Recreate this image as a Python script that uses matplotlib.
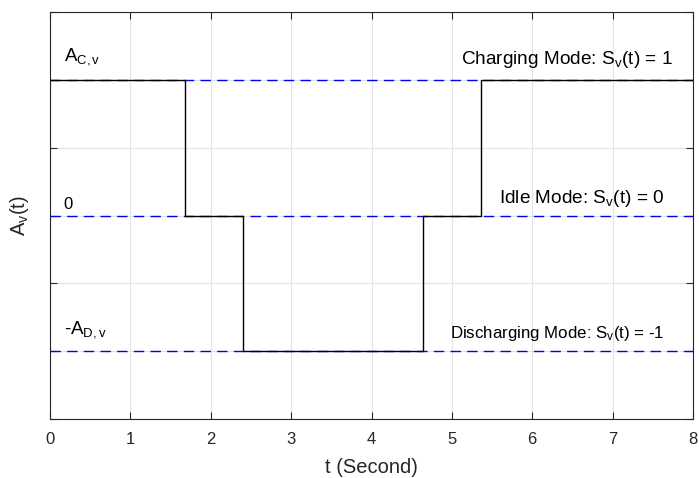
import matplotlib
matplotlib.use('Agg')
import matplotlib.pyplot as plt

plt.rcParams['font.family'] = ['Liberation Sans', 'DejaVu Sans']
plt.rcParams['mathtext.fontset'] = 'custom'
plt.rcParams['mathtext.rm'] = 'Liberation Sans'
plt.rcParams['mathtext.it'] = 'Liberation Sans'

# Operating mode signal, piecewise constant over time
switch_times = [0, 1.68, 2.40, 4.64, 5.36, 8]
mode_levels = [1, 0, -1, 0, 1]

# Reference levels for each mode
ref_levels = [1, 0, -1]
level_names = [r'A$_{\rm C,v}$', '0', r'-A$_{\rm D,v}$']
mode_texts = [r'Charging Mode: S$_{\rm v}$(t) = 1',
              r'Idle Mode: S$_{\rm v}$(t) = 0',
              r'Discharging Mode: S$_{\rm v}$(t) = -1']
xticks = [0, 1, 2, 3, 4, 5, 6, 7, 8]

fig = plt.figure(figsize=(6.99, 4.78), dpi=100)
ax = fig.add_axes([50 / 699, 59 / 478, 643 / 699, 407 / 478])

for lvl in ref_levels:
    ax.plot([0, 8], [lvl, lvl], color='#0000ff', linestyle=(0, (7.5, 4.5)),
            linewidth=1.0, zorder=2)

ax.step(switch_times, mode_levels + [mode_levels[-1]], where='post',
        color='black', linewidth=1.0, zorder=3)

# level annotations on the left
name_offsets = [0.14, 0.05, 0.13]
name_sizes = [13.5, 12, 13.5]
for lvl, name, dy, fs in zip(ref_levels, level_names, name_offsets, name_sizes):
    ax.text(0.17, lvl + dy, name, fontsize=fs, ha='left', va='baseline')

# mode annotations on the right
mode_x = [7.75, 7.65, 7.65]
mode_offsets = [0.115, 0.095, 0.10]
mode_sizes = [13.7, 13.7, 12.2]
for lvl, txt, x, dy, fs in zip(ref_levels, mode_texts, mode_x, mode_offsets, mode_sizes):
    ax.text(x, lvl + dy, txt, fontsize=fs, ha='right', va='baseline')

ax.set_xlim(0, 8)
ax.set_ylim(-1.5, 1.5)
ax.set_xticks(xticks)
ax.set_yticks([-1.5, -1, -0.5, 0, 0.5, 1, 1.5])
ax.set_yticklabels([])
ax.tick_params(direction='in', top=True, right=True, length=5,
               color='#262626', labelsize=12, labelcolor='#262626')
ax.tick_params(axis='x', pad=9.5)
ax.grid(True, color='#e3e3e3', linewidth=0.8, zorder=0)
ax.set_axisbelow(True)
for sp in ax.spines.values():
    sp.set_color('#262626')
    sp.set_linewidth(0.8)

ax.set_xlabel('t (Second)', fontsize=14.5, color='#262626', labelpad=7.5)
ax.set_ylabel(r'A$_{\rm v}$(t)', fontsize=14.5, color='#262626', labelpad=10.5)

fig.savefig('out.png', dpi=100)
